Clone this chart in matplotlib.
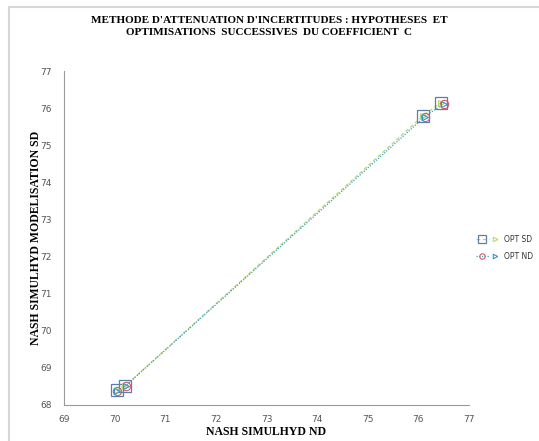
import matplotlib
matplotlib.use('Agg')
import matplotlib.pyplot as plt
from matplotlib.lines import Line2D
from matplotlib.legend_handler import HandlerTuple

# data
sd_x = [70.05, 70.2, 76.1, 76.45]
sd_y = [68.4, 68.5, 75.8, 76.15]
nd_x = [70.05, 70.22, 76.13, 76.5]
nd_y = [68.38, 68.52, 75.77, 76.12]
xticks = [69, 70, 71, 72, 73, 74, 75, 76, 77]
yticks = [68, 69, 70, 71, 72, 73, 74, 75, 76, 77]

fig = plt.figure(figsize=(5.39, 4.41), dpi=100)
ax = fig.add_axes([0.119, 0.082, 0.751, 0.757])

# series lines
l_sd, = ax.plot(sd_x, sd_y, linestyle=(0, (3, 2)), color='#b5d96b', linewidth=0.9,
                marker='s', markersize=9, markerfacecolor='none', markeredgecolor='#5b7fa8',
                markeredgewidth=0.9)
l_nd, = ax.plot(nd_x, nd_y, linestyle=(0, (1, 1.2)), color='#3e9fb8', linewidth=0.9,
                marker='o', markersize=6, markerfacecolor='none', markeredgecolor='#d35a6a',
                markeredgewidth=0.8)
a_sd, = ax.plot(sd_x, sd_y, linestyle='none', marker='>', markersize=5,
                markerfacecolor='none', markeredgecolor='#b5d96b', markeredgewidth=0.8)
a_nd, = ax.plot(nd_x, nd_y, linestyle='none', marker='>', markersize=5,
                markerfacecolor='none', markeredgecolor='#3e8fc8', markeredgewidth=0.8)

ax.set_xlim(69, 77)
ax.set_ylim(68, 77)
ax.set_xticks(xticks)
ax.set_yticks(yticks)
ax.tick_params(length=0, labelsize=6.5, colors='#555555', pad=9)
ax.tick_params(axis='x', pad=7)
for s in ['top', 'right']:
    ax.spines[s].set_visible(False)
for s in ['left', 'bottom']:
    ax.spines[s].set_color('#9a9a9a')
    ax.spines[s].set_linewidth(0.8)

ax.set_xlabel('NASH SIMULHYD ND', family='Liberation Serif', fontweight='bold',
              fontsize=8.5, labelpad=2)
ax.set_ylabel('NASH SIMULHYD MODELISATION SD', family='Liberation Serif', fontweight='bold',
              fontsize=8.5, labelpad=-1)

fig.text(0.5, 0.963, "METHODE D'ATTENUATION D'INCERTITUDES : HYPOTHESES  ET\nOPTIMISATIONS  SUCCESSIVES  DU COEFFICIENT  C",
         ha='center', va='top', family='Liberation Serif', fontweight='bold', fontsize=8,
         linespacing=1.45)

leg = ax.legend([(l_sd, a_sd), (l_nd, a_nd)], ['OPT SD', 'OPT ND'],
                handler_map={tuple: HandlerTuple(ndivide=2, pad=0)},
                loc='center left', bbox_to_anchor=(1.0, 0.47), frameon=False,
                fontsize=5.5, handlelength=3.4, handletextpad=0.3, labelspacing=1.0,
                markerscale=0.65)
for t in leg.get_texts():
    t.set_color('#333333')

# outer frame lines (left and top)
fig.add_artist(Line2D([0.016, 0.016], [0.0, 0.984], transform=fig.transFigure,
                      color='#d6d6d6', linewidth=1.5))
fig.add_artist(Line2D([0.016, 1.0], [0.984, 0.984], transform=fig.transFigure,
                      color='#d6d6d6', linewidth=1.5))

plt.savefig('out.png', dpi=100)
